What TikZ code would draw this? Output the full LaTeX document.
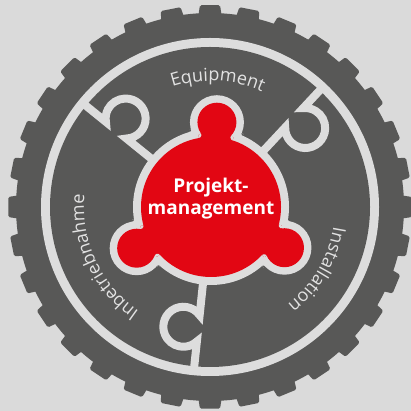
\documentclass[tikz,border=0pt]{standalone}
\usepackage{fontspec}
\setmainfont{Open Sans}
\usetikzlibrary{decorations.text}
\definecolor{bgc}{RGB}{218,218,218}
\definecolor{gearc}{RGB}{88,88,87}
\definecolor{lightc}{RGB}{221,221,221}
\definecolor{redc}{RGB}{226,6,19}
\definecolor{txtc}{RGB}{226,226,226}
\newcommand{\curvefont}{\fontsize{18}{20}\selectfont}
\tikzset{
  divider/.style={draw=lightc, line width=8pt},
  curvetext/.style={decorate, decoration={text along path, text align=center, text color=txtc, text={|\curvefont|#1}}}
}
% concave fillet between centre disc and a knob disc
% #1 angle, #2 distance, #3 main radius, #4 knob radius, #5 fillet radius, #6 fill colour, #7 outside colour
\newcommand{\knobneck}[7]{%
  \begin{scope}[shift={(C)}, rotate=#1]
    \pgfmathsetmacro\fx{((#3+#5)*(#3+#5)-(#4+#5)*(#4+#5)+#2*#2)/(2*#2)}
    \pgfmathsetmacro\fy{sqrt((#3+#5)*(#3+#5)-\fx*\fx)}
    \begin{scope}
      \clip (0,0) -- (\fx,\fy) -- (#2,0) -- (\fx,-\fy) -- cycle;
      \fill[#6] (0,0) -- (\fx,\fy) -- (#2,0) -- (\fx,-\fy) -- cycle;
      \fill[#7] (\fx,\fy) circle[radius=#5] (\fx,-\fy) circle[radius=#5];
    \end{scope}
  \end{scope}}
\begin{document}
\begin{tikzpicture}[x=1pt,y=1pt]
\fill[bgc] (0,0) rectangle (411,411);
\useasboundingbox (0,0) rectangle (411,411);
\coordinate (G) at (210,204);
\coordinate (C) at (211,204);
% gear body
\fill[gearc] (G) circle[radius=194];
\foreach \i in {0,...,31}{
  \pgfmathsetmacro\a{90+\i*11.25}
  \fill[gearc, rounded corners=1.5pt] ([shift={(\a-3.6:190)}]G) -- ([shift={(\a-2.85:202)}]G) -- ([shift={(\a+2.85:202)}]G) -- ([shift={(\a+3.6:190)}]G) -- cycle;
}
% light ring
\fill[lightc] (G) circle[radius=169];
\fill[gearc] (G) circle[radius=160];
% dividers with puzzle knobs
\foreach \t in {141,47,264}{
  \begin{scope}[shift={(C)}, rotate=\t]
    \draw[divider] (60,0) -- (108.8,0) arc[start angle=131.3, end angle=408.7, radius=20] -- (164,0);
  \end{scope}
}
% central piece
\coordinate (K1) at ([shift={(86:85)}]C);
\coordinate (K2) at ([shift={(209:85)}]C);
\coordinate (K3) at ([shift={(331:84)}]C);
\fill[lightc] (C) circle[radius=78];
\foreach \k in {K1,K2,K3}{\fill[lightc] (\k) circle[radius=27];}
\knobneck{86}{85}{78}{27}{2}{lightc}{gearc}
\knobneck{209}{85}{78}{27}{2}{lightc}{gearc}
\knobneck{331}{84}{78}{27}{2}{lightc}{gearc}
\fill[redc] (C) circle[radius=70];
\foreach \k in {K1,K2,K3}{\fill[redc] (\k) circle[radius=19.5];}
\knobneck{86}{85}{70}{19.5}{3}{redc}{lightc}
\knobneck{209}{85}{70}{19.5}{3}{redc}{lightc}
\knobneck{331}{84}{70}{19.5}{3}{redc}{lightc}
\node[text=white, font=\bfseries\fontsize{19}{22}\selectfont, align=center] (pm) at (211,212) {Projekt-\\management};
% curved labels
\path[curvetext=Equipment] ([shift={(127:126)}]C) arc[start angle=127, end angle=47, radius=126];
\path[curvetext=Installation] ([shift={(9.5:124)}]C) arc[start angle=9.5, end angle=-70.5, radius=124];
\path[curvetext=Inbetriebnahme] ([shift={(245:127)}]C) arc[start angle=245, end angle=165, radius=127];
\end{tikzpicture}
\end{document}
